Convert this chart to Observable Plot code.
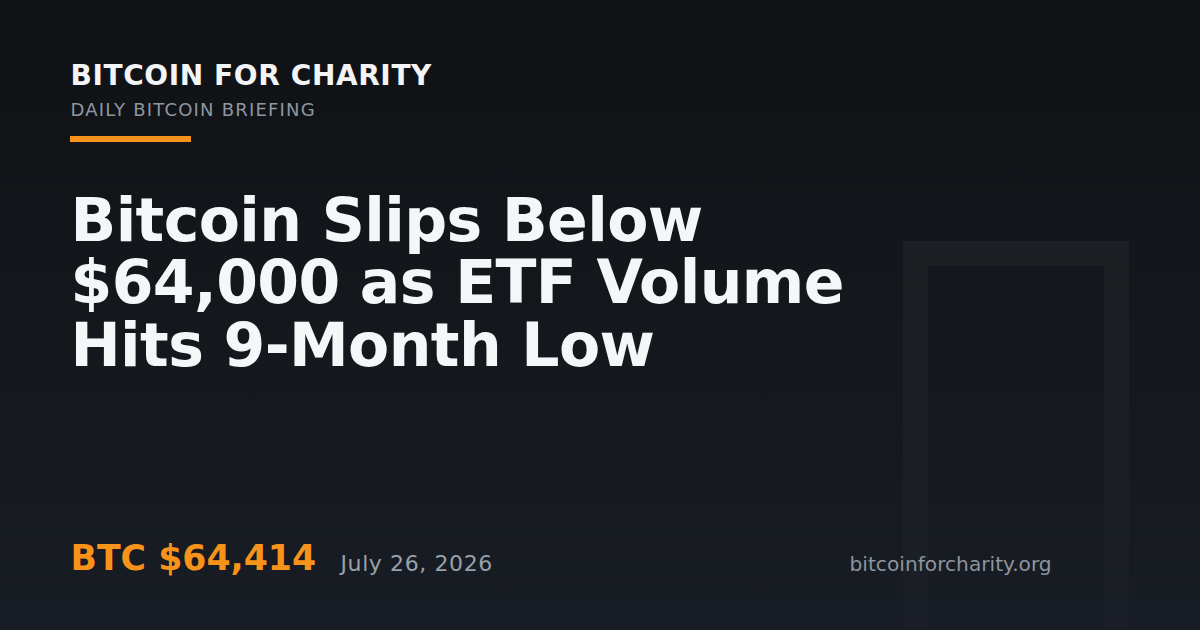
<!DOCTYPE html>
<html>
<head>
<meta charset="utf-8">
<script src="https://cdn.jsdelivr.net/npm/d3@7"></script>
<script src="https://cdn.jsdelivr.net/npm/@observablehq/plot@0.6"></script>
<style>
  html, body { margin: 0; padding: 0; background: #13161b; overflow: hidden; }
  #card svg { display: block; }
</style>
</head>
<body>
<div id="card"></div>
<script>
// ---- content (data) ----
const brand = ["BITCOIN FOR CHARITY"];
const briefing = ["DAILY BITCOIN BRIEFING"];
const headlineLines = ["Bitcoin Slips Below", "$64,000 as ETF Volume", "Hits 9-Month Low"];
const priceLabel = ["BTC $64,414"];
const dateLabel = ["July 26, 2026"];
const siteLabel = ["bitcoinforcharity.org"];
const badge = ["\u20BF"];

// ---- layout (pixel positions in a 1200x630 frame) ----
const W = 1200, H = 630, left = 70;
const font = "'DejaVu Sans', Verdana, sans-serif";

const chart = Plot.plot({
  width: W,
  height: H,
  margin: 0,
  x: {domain: [0, W], range: [0, W], axis: null},
  y: {domain: [0, H], range: [0, H], axis: null},
  style: {
    background: "linear-gradient(180deg, #0f1114 0%, #14171c 50%, #181c24 100%)",
    fontFamily: font,
    overflow: "hidden"
  },
  marks: [
    // faint badge glyph box on the right
    Plot.rect(badge, {
      x1: () => 915.5, x2: () => 1116.5, y1: () => 253.5, y2: () => 700,
      fill: "none", stroke: "url(#badgeFade)", strokeWidth: 25
    }),
    // brand
    Plot.text(brand, {
      x: () => left, y: () => 84, text: d => d,
      textAnchor: "start", lineAnchor: "bottom",
      fontSize: 28, fontWeight: "bold", fill: "#f3f4f6"
    }),
    Plot.text(briefing, {
      x: () => left, y: () => 115.5, text: d => d,
      textAnchor: "start", lineAnchor: "bottom",
      fontSize: 18, fill: "#8f96a0"
    }),
    // orange accent bar
    Plot.rect(brand, {
      x1: () => left, x2: () => 191, y1: () => 136, y2: () => 142,
      fill: "#f7931a"
    }),
    // headline
    Plot.text(headlineLines, {
      x: () => left, y: (d, i) => 240 + i * 62.5, text: d => d,
      textAnchor: "start", lineAnchor: "bottom",
      fontSize: 60, fontWeight: "bold", fill: "#f5f6f8"
    }),
    // footer
    Plot.text(priceLabel, {
      x: () => left, y: () => 569.5, text: d => d,
      textAnchor: "start", lineAnchor: "bottom",
      fontSize: 34.7, fontWeight: "bold", fill: "#f7931a"
    }),
    Plot.text(dateLabel, {
      x: () => 340, y: () => 570, text: d => d,
      textAnchor: "start", lineAnchor: "bottom",
      fontSize: 22, fill: "#9aa0a9"
    }),
    Plot.text(siteLabel, {
      x: () => 849, y: () => 570, text: d => d,
      textAnchor: "start", lineAnchor: "bottom",
      fontSize: 20.2, fill: "#8e949d"
    })
  ]
});

// gradient used by the faint badge box
const svg = d3.select(chart);
const defs = svg.insert("defs", ":first-child");
const grad = defs.append("linearGradient")
  .attr("id", "badgeFade")
  .attr("gradientUnits", "userSpaceOnUse")
  .attr("x1", 0).attr("y1", 241).attr("x2", 0).attr("y2", 630);
grad.append("stop").attr("offset", "0%").attr("stop-color", "#ffffff").attr("stop-opacity", 0.04);
grad.append("stop").attr("offset", "100%").attr("stop-color", "#ffffff").attr("stop-opacity", 0.012);

// letter spacing per text line
const spacing = new Map([
  [brand[0], "0.6px"],
  [briefing[0], "1.2px"],
  [dateLabel[0], "0.6px"],
  ...headlineLines.map(t => [t, "-0.6px"])
]);
svg.selectAll("text").each(function() {
  const s = spacing.get(this.textContent);
  if (s) this.style.letterSpacing = s;
});

document.getElementById("card").appendChild(chart);
</script>
</body>
</html>
